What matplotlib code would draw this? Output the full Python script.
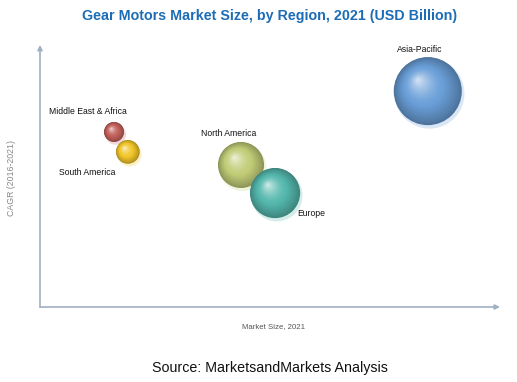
import numpy as np
import matplotlib
matplotlib.use("Agg")
from matplotlib import pyplot as plt
from matplotlib.colors import to_rgb
from matplotlib.transforms import offset_copy

plt.rcParams["font.family"] = ["Liberation Sans", "DejaVu Sans"]

regions = ["Middle East & Africa", "South America", "North America", "Europe", "Asia-Pacific"]
market_size = [16.1, 19.1, 43.7, 51.1, 84.3]
cagr = [66.8, 59.2, 54.2, 43.5, 82.4]
bubble_value = [1.0, 1.4, 5.3, 6.3, 11.6]
colors = ["#c4625c", "#f2c62a", "#c2cd78", "#55b8ae", "#6a9fd8"]

# label placement (offset in points from bubble centre)
label_pos = {
    "Middle East & Africa": (-19, 15),
    "South America": (-29, -15),
    "North America": (-9, 23),
    "Europe": (26, -15),
    "Asia-Pacific": (-6, 30),
}

fig = plt.figure(figsize=(5.17, 3.82), dpi=100)
ax = fig.add_axes([40 / 517, 75 / 382, 460 / 517, 262 / 382])
ax.set_xlim(0, 100)
ax.set_ylim(0, 100)
ax.axis("off")

# axis lines with arrows
axis_col = "#9fb0c2"
arrow = dict(arrowstyle="-|>", color=axis_col, lw=1.2, mutation_scale=7, shrinkA=0, shrinkB=0)
ax.annotate("", xy=(1, 0), xytext=(0, 0), xycoords="axes fraction", arrowprops=arrow)
ax.annotate("", xy=(0, 1), xytext=(0, 0), xycoords="axes fraction", arrowprops=arrow)

k = 207.0  # scatter area per unit of bubble value
n_layers = 40
for name, x, y, v, c in zip(regions, market_size, cagr, bubble_value, colors):
    base = np.array(to_rgb(c))
    dark = base * 0.72
    light = base + (1 - base) * 0.75
    s_full = v * k
    r_pt = np.sqrt(s_full) / 2
    # soft shadow / reflection
    ax.scatter([x], [y], s=s_full * 1.06, color=base + (1 - base) * 0.75,
               transform=offset_copy(ax.transData, fig=fig, x=1.2, y=-1.8, units="points"),
               edgecolors="none", zorder=2)
    for i in range(n_layers):
        f = 1 - i / n_layers
        t = (1 - f) ** 0.9
        if t < 0.45:
            col = dark + (base - dark) * (t / 0.45)
        else:
            col = base + (light - base) * ((t - 0.45) / 0.55) ** 1.5
        dx = -0.3 * r_pt * (1 - f)
        dy = 0.34 * r_pt * (1 - f)
        tr = offset_copy(ax.transData, fig=fig, x=dx, y=dy, units="points")
        ax.scatter([x], [y], s=s_full * f * f, color=np.clip(col, 0, 1),
                   transform=tr, edgecolors="none", zorder=3)
    ox, oy = label_pos[name]
    ax.annotate(name, xy=(x, y), xytext=(ox, oy), textcoords="offset points",
                ha="center", va="center", fontsize=6.2, color="#111111", zorder=5)

fig.text(270 / 517, 1 - 16 / 382, "Gear Motors Market Size, by Region, 2021 (USD Billion)",
         ha="center", va="center", fontsize=10.3, fontweight="bold", color="#1c6db5")
fig.text(273 / 517, 1 - 327 / 382, "Market Size, 2021", ha="center", va="center",
         fontsize=5.6, color="#555555")
fig.text(12 / 517, 1 - 178 / 382, "CAGR (2016-2021)", ha="center", va="center",
         rotation=90, fontsize=6.3, color="#888888")
fig.text(270 / 517, 1 - 368 / 382, "Source: MarketsandMarkets Analysis", ha="center",
         va="center", fontsize=10.3, color="#111111")

fig.savefig("out.png", dpi=100)
